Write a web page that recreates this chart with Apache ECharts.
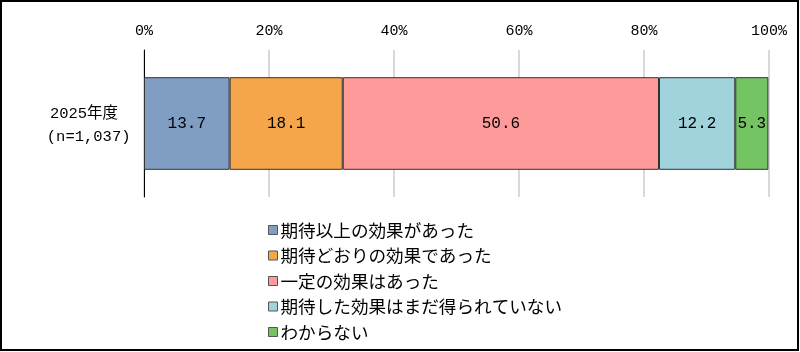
<!DOCTYPE html>
<html>
<head>
<meta charset="utf-8">
<script src="https://cdn.jsdelivr.net/npm/echarts@6/dist/echarts.min.js"></script>
<style>
  html, body { margin: 0; padding: 0; background: #fff; }
  #chart { width: 800px; height: 352px; }
</style>
</head>
<body>
<div id="chart"></div>
<script>
const categories = ['2025年度\n (n=1,037)']
const seriesNames = [
  '期待以上の効果があった',
  '期待どおりの効果であった',
  '一定の効果はあった',
  '期待した効果はまだ得られていない',
  'わからない',
]
const seriesValues = [[13.7], [18.1], [50.6], [12.2], [5.3]]
const seriesColors = ['#809ec3', '#f5a54a', '#ff9a9a', '#a0d3dc', '#75c463']
const tickValues = [0, 20, 40, 60, 80, 100]

const monoFont = '"Liberation Mono", "DejaVu Sans Mono", "Noto Sans CJK JP", monospace'
const sansFont = '"Noto Sans CJK JP", sans-serif'

const chart = echarts.init(document.getElementById('chart'))

const option = {
  animation: false,
  graphic: [
    {
      type: 'rect',
      shape: { x: 1, y: 1, width: 797, height: 349 },
      style: { fill: 'none', stroke: '#000', lineWidth: 2 },
      silent: true,
    },
  ],
  grid: {
    left: 144,
    right: 31,
    top: 50,
    bottom: 155,
  },
  legend: {
    orient: 'vertical',
    left: 263,
    top: 216,
    itemWidth: 9,
    itemHeight: 9,
    itemGap: 7.5,
    icon: 'rect',
    itemStyle: { borderColor: '#555', borderWidth: 1 },
    textStyle: { fontFamily: sansFont, fontSize: 17.6, lineHeight: 18, color: '#000', padding: [0, 0, 0, -2] },
    data: seriesNames,
  },
  xAxis: {
    type: 'value',
    position: 'top',
    min: 0,
    max: 100,
    interval: 20,
    axisLine: { show: false },
    axisTick: { show: false },
    axisLabel: {
      color: '#000',
      fontFamily: monoFont,
      fontSize: 15,
      margin: 11,
      formatter: v => (tickValues.includes(v) ? v + '%' : ''),
    },
    splitLine: { lineStyle: { color: '#d9d9d9', width: 2 } },
  },
  yAxis: {
    type: 'category',
    data: categories,
    inverse: true,
    axisLine: { show: true, lineStyle: { color: '#000', width: 1 } },
    axisTick: { show: false },
    axisLabel: {
      color: '#000',
      fontFamily: monoFont,
      fontSize: 15.5,
      margin: 60,
      align: 'center',
      formatter: v => {
        const lines = v.split('\n')
        return `{a|${lines[0]}}\n{b|${lines[1]}}`
      },
      rich: {
        a: { fontFamily: monoFont, fontSize: 15.5, color: '#000', lineHeight: 27 },
        b: { fontFamily: monoFont, fontSize: 15.5, color: '#000', lineHeight: 19 },
      },
    },
  },
  series: seriesNames.map((name, i) => ({
    name,
    type: 'bar',
    stack: 'total',
    barWidth: '63%',
    data: seriesValues[i],
    itemStyle: { color: seriesColors[i], borderColor: '#333', borderWidth: 1 },
    label: {
      show: true,
      position: 'inside',
      color: '#000',
      fontFamily: monoFont,
      fontSize: 16,
      formatter: p => p.value.toFixed(1),
    },
  })),
}

chart.setOption(option)
</script>
</body>
</html>
